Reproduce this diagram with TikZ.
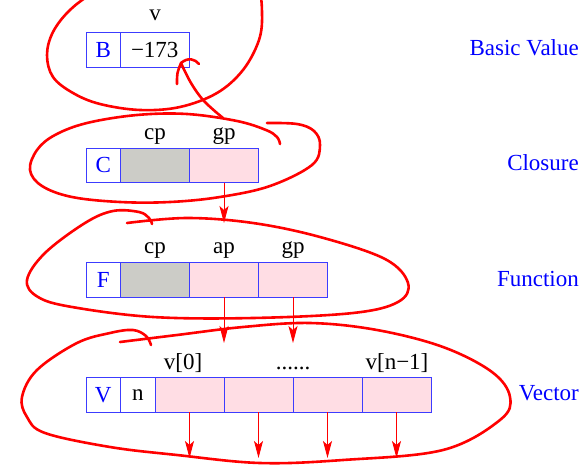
\documentclass[tikz,border=0pt]{standalone}
\usepackage{fontspec}
\setmainfont{Liberation Serif}
\usetikzlibrary{arrows.meta}
\definecolor{cellgray}{RGB}{204,204,199}
\definecolor{cellpink}{RGB}{255,221,228}
\definecolor{lblue}{RGB}{0,0,255}
\definecolor{bblue}{RGB}{60,60,255}
\definecolor{hred}{RGB}{255,0,0}
\begin{document}
\begin{tikzpicture}[x=1pt,y=-1pt,
  font=\fontsize{23}{27}\selectfont,
  cell/.style={draw=bblue, line width=0.9pt, minimum height=34.5pt, inner sep=0pt, outer sep=0pt, anchor=north west},
  tagcell/.style={cell, minimum width=34.5pt, text=lblue},
  wide/.style={cell, minimum width=69pt},
  gcell/.style={wide, fill=cellgray},
  pcell/.style={wide, fill=cellpink},
  lab/.style={anchor=base, inner sep=0pt},
  kind/.style={anchor=base east, inner sep=0pt, text=lblue},
  parrow/.style={draw=hred, line width=0.9pt, -{Stealth[length=17pt,width=9pt,inset=4pt]}},
  hand/.style={draw=hred, line width=2.6pt, line cap=round, line join=round}
]
\useasboundingbox (0,0) rectangle (588,471);
\clip (0,0) rectangle (588,471);

% ---------- Basic value ----------
\node[tagcell] (Bt) at (86,32.5) {B};
\node[cell, minimum width=68.5pt] (Bv) at (120.5,32.5) {−173};
\node[lab] (Bl) at (155,20) {v};
\node[kind] (kB) at (579,55) {Basic Value};

% ---------- Closure ----------
\node[tagcell] (Ct) at (86,148) {C};
\node[gcell] (Ccp) at (120.5,148) {};
\node[pcell] (Cgp) at (189.5,148) {};
\node[lab] (Cl1) at (155,139) {cp};
\node[lab] (Cl2) at (224,139) {gp};
\node[kind] (kC) at (579,170) {Closure};

% ---------- Function ----------
\node[tagcell] (Ft) at (86,262.5) {F};
\node[gcell] (Fcp) at (120.5,262.5) {};
\node[pcell] (Fap) at (189.5,262.5) {};
\node[pcell] (Fgp) at (258.5,262.5) {};
\node[lab] (Fl1) at (155,253) {cp};
\node[lab] (Fl2) at (224,253) {ap};
\node[lab] (Fl3) at (293,253) {gp};
\node[kind] (kF) at (579,286) {Function};

% ---------- Vector ----------
\node[tagcell] (Vt) at (86,377.5) {V};
\node[cell, minimum width=34.5pt] (Vn) at (120.5,377.5) {n};
\node[pcell] (V0) at (155,377.5) {};
\node[pcell] (V1) at (224,377.5) {};
\node[pcell] (V2) at (293,377.5) {};
\node[pcell] (V3) at (362,377.5) {};
\node[lab] (Vl1) at (183,369) {v[0]};
\node[lab] (Vl2) at (293,369) {......};
\node[lab] (Vl3) at (397,369) {v[n−1]};
\node[kind] (kV) at (579,400) {Vector};

% ---------- pointer arrows ----------
\coordinate (eC) at (224,223);
\coordinate (eFa) at (224,343);
\coordinate (eFg) at (293,343);
\coordinate (eV0) at (189.5,458);
\coordinate (eV1) at (258.5,458);
\coordinate (eV2) at (327.5,458);
\coordinate (eV3) at (396.5,458);
\draw[parrow] (Cgp.south) -- (eC);
\draw[parrow] (Fap.south) -- (eFa);
\draw[parrow] (Fgp.south) -- (eFg);
\draw[parrow] (V0.south) -- (eV0);
\draw[parrow] (V1.south) -- (eV1);
\draw[parrow] (V2.south) -- (eV2);
\draw[parrow] (V3.south) -- (eV3);

% ---------- hand-drawn loops ----------
\draw[hand] plot[smooth, tension=0.6] coordinates {
  (140,-30) (95,-8) (70,10) (53,32) (47,55) (53,77) (73,93) (100,104)
  (140,110) (180,107) (217,93) (243,70) (259,40) (262,13) (258,-12) (240,-30)};

\draw[hand] plot[smooth, tension=0.6] coordinates {
  (267,123) (297,124) (314,131) (320,145) (312,165) (270,186) (220,197)
  (170,202) (120,202) (72,197) (42,186) (30,170) (37,150) (55,135)
  (87,123) (137,115) (187,114) (237,121) (266,130) (277,137) (280,144)};

\draw[hand] plot[smooth, tension=0.6] coordinates {
  (127,223) (187,218) (253,223) (320,237) (385,259) (408,283) (398,302)
  (353,313) (253,318) (153,317) (72,307) (38,297) (27,280) (45,253)
  (85,223) (113,211) (139,212) (149,218) (152,224)};

\draw[hand] plot[smooth, tension=0.6] coordinates {
  (120,342) (177,335) (243,327) (310,323) (377,330) (443,347) (492,372)
  (510,397) (500,420) (443,450) (343,460) (260,463) (177,455) (110,447)
  (45,433) (27,417) (22,397) (37,370) (77,343) (110,333) (133,330)
  (146,336) (151,345)};

% ---------- hand-drawn arrow to -173 ----------
\coordinate (hs) at (223,118);
\coordinate (ht) at (181,63);
\draw[hand] plot[smooth, tension=0.6] coordinates {(hs) (204,101) (191,83) (ht)};
\draw[hand] (177,84) .. controls (177,73) .. (ht) .. controls (188,57) and (195,59) .. (199,64);
\end{tikzpicture}
\end{document}
